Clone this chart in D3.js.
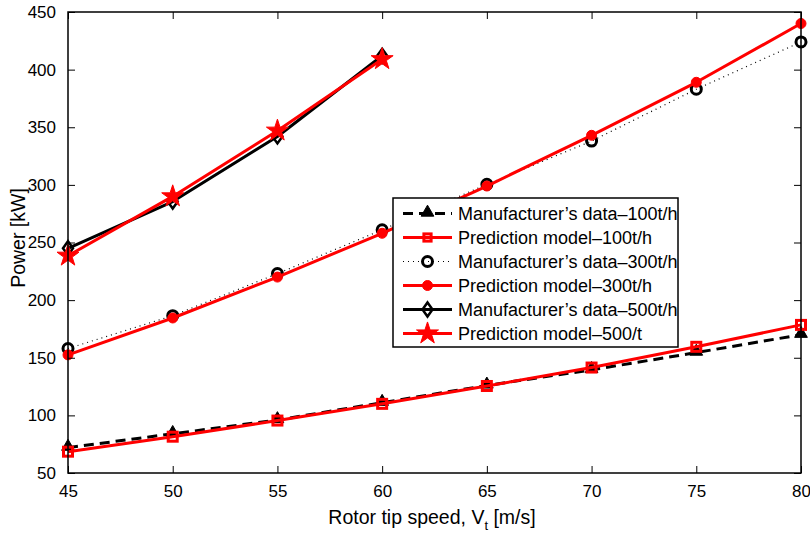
<!DOCTYPE html>
<html>
<head>
<meta charset="utf-8">
<script src="https://cdn.jsdelivr.net/npm/d3@7"></script>
<style>
  html, body { margin: 0; padding: 0; background: #fff; }
  svg { display: block; font-family: "Liberation Sans", Arial, sans-serif; }
</style>
</head>
<body>
<svg id="chart" width="810" height="534"></svg>
<script>
// Rotor tip speed [m/s]
const tipSpeed = [45, 50, 55, 60, 65, 70, 75, 80];
const tipSpeed500 = [45, 50, 55, 60];

// Power [kW]
const mfr100  = [72, 84, 96, 111, 126, 139.5, 154.5, 170];
const pred100 = [68.5, 81.5, 95.5, 110, 125.5, 141.5, 159.5, 178.5];
const mfr300  = [158, 186.5, 223, 261, 300.5, 338, 383, 424];
const pred300 = [152.5, 184.5, 220, 258, 299, 343, 389, 440];
const mfr500  = [245, 285.5, 342, 412];
const pred500 = [238.5, 290, 347, 409];

const xTicks = [45, 50, 55, 60, 65, 70, 75, 80];
const yTicks = [50, 100, 150, 200, 250, 300, 350, 400, 450];

const legendLabels = [
  "Manufacturer\u2019s data\u2013100t/h",
  "Prediction model\u2013100t/h",
  "Manufacturer\u2019s data\u2013300t/h",
  "Prediction model\u2013300t/h",
  "Manufacturer\u2019s data\u2013500t/h",
  "Prediction model\u2013500/t"
];

const svg = d3.select("#chart");
const L = 68, R = 801, T = 12, B = 473;

const x = d3.scaleLinear().domain([45, 80]).range([L, R]);
const y = d3.scaleLinear().domain([50, 450]).range([B, T]);

// series definitions: style + marker
const series = [
  { xs: tipSpeed, ys: mfr100, color: "#000", width: 3, dash: "10,6", marker: "triangle" },
  { xs: tipSpeed, ys: pred100, color: "#f00", width: 3, dash: null, marker: "square" },
  { xs: tipSpeed, ys: mfr300, color: "#000", width: 1.2, dash: "1,4", marker: "circle" },
  { xs: tipSpeed, ys: pred300, color: "#f00", width: 3, dash: null, marker: "dot" },
  { xs: tipSpeed500, ys: mfr500, color: "#000", width: 3, dash: null, marker: "diamond" },
  { xs: tipSpeed500, ys: pred500, color: "#f00", width: 3, dash: null, marker: "star" }
];

function drawMarker(g, type, cx, cy, scale) {
  const s = scale || 1;
  if (type === "triangle") {
    g.append("path")
      .attr("d", d3.symbol(d3.symbolTriangle, 70 * s)())
      .attr("transform", `translate(${cx},${cy - 1})`)
      .attr("fill", "#000").attr("stroke", "#000").attr("stroke-width", 1);
  } else if (type === "square") {
    g.append("rect")
      .attr("x", cx - 4.5 * s).attr("y", cy - 4.5 * s)
      .attr("width", 9 * s).attr("height", 9 * s)
      .attr("fill", "none").attr("stroke", "#f00").attr("stroke-width", 3);
  } else if (type === "circle") {
    g.append("circle")
      .attr("cx", cx).attr("cy", cy).attr("r", 5 * s)
      .attr("fill", "none").attr("stroke", "#000").attr("stroke-width", 3);
  } else if (type === "dot") {
    g.append("circle")
      .attr("cx", cx).attr("cy", cy).attr("r", 5 * s)
      .attr("fill", "#f00").attr("stroke", "#f00").attr("stroke-width", 1);
  } else if (type === "diamond") {
    const h = 7 * s, w = 5 * s;
    g.append("path")
      .attr("d", `M${cx},${cy - h}L${cx + w},${cy}L${cx},${cy + h}L${cx - w},${cy}Z`)
      .attr("fill", "none").attr("stroke", "#000").attr("stroke-width", 2.5);
  } else if (type === "star") {
    g.append("path")
      .attr("d", d3.symbol(d3.symbolStar, 150 * s)())
      .attr("transform", `translate(${cx},${cy})`)
      .attr("fill", "#f00").attr("stroke", "#f00").attr("stroke-width", 1);
  }
}

// plot frame background
svg.append("rect").attr("x", L).attr("y", T).attr("width", R - L).attr("height", B - T)
  .attr("fill", "#fff");

const plot = svg.append("g");
const line = d3.line().x(d => x(d[0])).y(d => y(d[1]));

series.forEach(s => {
  const pts = s.xs.map((v, i) => [v, s.ys[i]]);
  plot.append("path")
    .attr("d", line(pts))
    .attr("fill", "none")
    .attr("stroke", s.color)
    .attr("stroke-width", s.width)
    .attr("stroke-dasharray", s.dash)
    .attr("stroke-linejoin", "round");
  const mg = plot.append("g");
  pts.forEach(p => drawMarker(mg, s.marker, x(p[0]), y(p[1])));
});

// axes with inward ticks on all four sides
const tickLen = 7;
const axisStyle = g => {
  g.select(".domain").remove();
  g.selectAll(".tick line").attr("stroke", "#000").attr("stroke-width", 1);
  g.selectAll(".tick text").attr("fill", "#000").style("font-size", "17px")
    .style("font-family", "'Liberation Sans', Arial, sans-serif");
};

svg.append("g").attr("transform", `translate(0,${B})`)
  .call(d3.axisBottom(x).tickValues(xTicks).tickSize(-tickLen).tickPadding(12).tickFormat(d3.format("d")))
  .call(axisStyle);
svg.append("g").attr("transform", `translate(0,${T})`)
  .call(d3.axisTop(x).tickValues(xTicks).tickSize(-tickLen).tickFormat(""))
  .call(axisStyle);
svg.append("g").attr("transform", `translate(${L},0)`)
  .call(d3.axisLeft(y).tickValues(yTicks).tickSize(-tickLen).tickPadding(12).tickFormat(d3.format("d")))
  .call(axisStyle);
svg.append("g").attr("transform", `translate(${R},0)`)
  .call(d3.axisRight(y).tickValues(yTicks).tickSize(-tickLen).tickFormat(""))
  .call(axisStyle);

svg.append("rect").attr("x", L).attr("y", T).attr("width", R - L).attr("height", B - T)
  .attr("fill", "none").attr("stroke", "#000").attr("stroke-width", 1.5);

// axis titles
const xt = svg.append("text")
  .attr("x", 432).attr("y", 524)
  .attr("text-anchor", "middle")
  .style("font-size", "19.5px").attr("fill", "#000");
xt.append("tspan").text("Rotor tip speed, V");
xt.append("tspan").attr("dy", 6).style("font-size", "13px").text("t");
xt.append("tspan").attr("dy", -6).text(" [m/s]");

svg.append("text")
  .attr("transform", `translate(25,238) rotate(-90)`)
  .attr("text-anchor", "middle")
  .style("font-size", "19.5px").attr("fill", "#000")
  .text("Power [kW]");

// legend
const lg = svg.append("g");
const lx = 393, ly = 198, lw = 285, lh = 149;
lg.append("rect").attr("x", lx).attr("y", ly).attr("width", lw).attr("height", lh)
  .attr("fill", "#fff").attr("stroke", "#000").attr("stroke-width", 1.5);

series.forEach((s, i) => {
  const cy = 213.5 + i * 24;
  lg.append("line")
    .attr("x1", 403).attr("x2", 452).attr("y1", cy).attr("y2", cy)
    .attr("stroke", s.color).attr("stroke-width", s.width)
    .attr("stroke-dasharray", s.dash);
  drawMarker(lg, s.marker, 427.5, cy, s.marker === "square" ? 0.8 : 1);
  lg.append("text")
    .attr("x", 458).attr("y", cy + 6.5)
    .style("font-size", "18px").attr("fill", "#000")
    .text(legendLabels[i]);
});
</script>
</body>
</html>
